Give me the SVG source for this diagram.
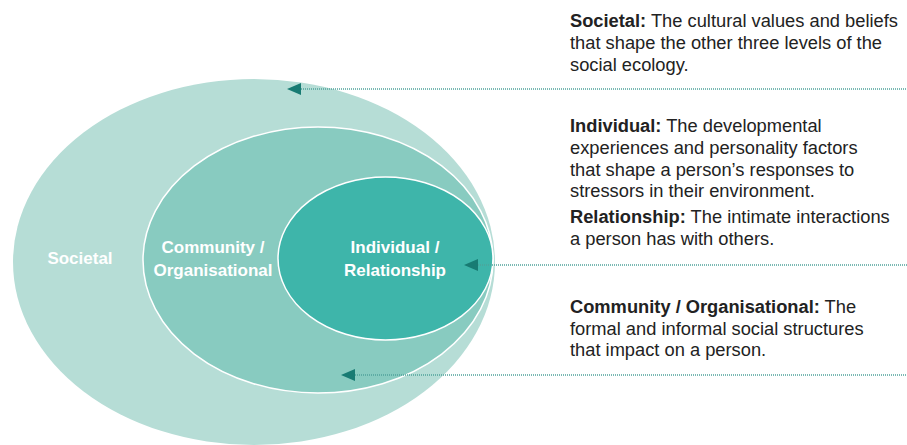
<svg xmlns="http://www.w3.org/2000/svg" width="907" height="445" viewBox="0 0 907 445">
<style>
.lbl{font-family:"Liberation Sans",Arial,sans-serif;font-weight:bold;font-size:17px;fill:#ffffff;text-anchor:middle}
.desc{font-family:"Liberation Sans",Arial,sans-serif;font-size:18.3px;fill:#222222}
.desc .b{font-weight:bold}
.dot{stroke:#4fa39b;stroke-width:1.4;stroke-dasharray:1 1;fill:none}
.head{fill:#187b73}
</style>
<rect width="907" height="445" fill="#ffffff"/>
<g id="societal">
<ellipse cx="254" cy="262" rx="241" ry="183" fill="#b6ddd6"/>
<text class="lbl" x="80" y="264">Societal</text>
</g>
<g id="community">
<ellipse cx="318" cy="260" rx="175" ry="133" fill="#88cbc0" stroke="#ffffff" stroke-width="1.5"/>
<text class="lbl" x="213" y="253">Community /</text>
<text class="lbl" x="213" y="276">Organisational</text>
</g>
<g id="individual">
<ellipse cx="385.5" cy="258.5" rx="107.5" ry="81.5" fill="#3eb5aa" stroke="#ffffff" stroke-width="1.5"/>
<text class="lbl" x="395" y="253">Individual /</text>
<text class="lbl" x="395" y="276">Relationship</text>
</g>
<g id="connectors">
<line class="dot" x1="299" y1="89" x2="907" y2="89"/>
<polygon class="head" points="287,89 301,83 301,95"/>
<line class="dot" x1="476" y1="265" x2="907" y2="265"/>
<polygon class="head" points="464,265 478,259 478,271"/>
<line class="dot" x1="353" y1="375" x2="907" y2="375"/>
<polygon class="head" points="341,375 355,369 355,381"/>
</g>
<g id="desc-societal">
<text class="desc" x="570" y="27"><tspan class="b">Societal:</tspan> The cultural values and beliefs</text>
<text class="desc" x="570" y="49">that shape the other three levels of the</text>
<text class="desc" x="570" y="71">social ecology.</text>
</g>
<g id="desc-individual">
<text class="desc" x="570" y="132"><tspan class="b">Individual:</tspan> The developmental</text>
<text class="desc" x="570" y="154">experiences and personality factors</text>
<text class="desc" x="570" y="175.5">that shape a person’s responses to</text>
<text class="desc" x="570" y="197">stressors in their environment.</text>
<text class="desc" x="570" y="223"><tspan class="b">Relationship:</tspan> The intimate interactions</text>
<text class="desc" x="570" y="244.5">a person has with others.</text>
</g>
<g id="desc-community">
<text class="desc" x="570" y="313"><tspan class="b">Community / Organisational:</tspan> The</text>
<text class="desc" x="570" y="334.5">formal and informal social structures</text>
<text class="desc" x="570" y="356">that impact on a person.</text>
</g>
</svg>
